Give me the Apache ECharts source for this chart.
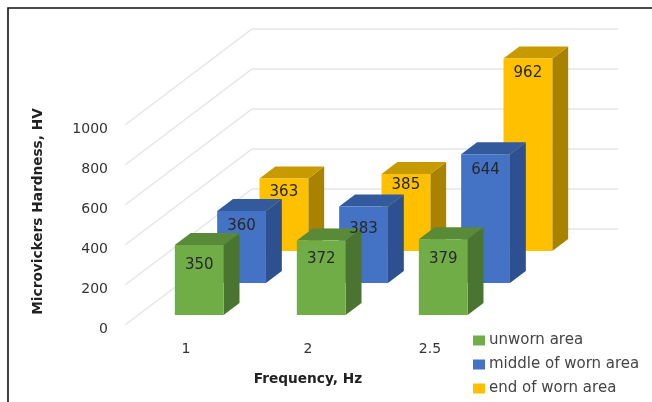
<!DOCTYPE html>
<html>
<head>
<meta charset="utf-8">
<style>html,body{margin:0;padding:0;background:#fff}#chart{width:652px;height:402px}</style>
<script src="https://cdn.jsdelivr.net/npm/echarts@6/dist/echarts.min.js"></script>
</head>
<body>
<div id="chart"></div>
<script>
// Microhardness per loading frequency, measured at three places on the wear track.
const frequencies = ['1', '2', '2.5'];
const unworn = [350, 372, 379];
const middleOfWorn = [360, 383, 644];
const endOfWorn = [363, 385, 962];
const hardnessTicks = [0, 200, 400, 600, 800, 1000];

// Oblique projection of the depth axis, in screen pixels.
const DEPTH_X = 127;
const DEPTH_Y = -96;
const BAR_RATIO = 0.4;
const BAR_DEPTH = 0.125;

const rows = [
  { name: 'unworn area', values: unworn, slot: 0, front: '#70ad47', top: '#588a38', side: '#4a7530', drop: [20, 19, 20] },
  { name: 'middle of worn area', values: middleOfWorn, slot: 1, front: '#4472c4', top: '#345a9e', side: '#2d5190', drop: [15, 23, 16] },
  { name: 'end of worn area', values: endOfWorn, slot: 2, front: '#ffc000', top: '#c79a00', side: '#a98200', drop: [14, 11, 15] }
];

const pairs = values => values.map((v, i) => [i, v]);
const slotDepth = slot => (slot + 0.5) / 3;
const shift = (p, d) => [p[0] + DEPTH_X * d, p[1] + DEPTH_Y * d];

function renderBar(row) {
  return function (params, api) {
    const cat = api.value(0);
    const val = api.value(1);
    const w = api.size([1, 0])[0] * BAR_RATIO;
    const base = api.coord([cat, 0]);
    const head = api.coord([cat, val]);
    const near = slotDepth(row.slot) - BAR_DEPTH / 2;
    const far = slotDepth(row.slot) + BAR_DEPTH / 2;
    const b = shift([base[0] - w / 2, base[1]], near);
    const t = shift([head[0] - w / 2, head[1]], near);
    const dx = DEPTH_X * (far - near);
    const dy = DEPTH_Y * (far - near);
    return {
      type: 'group',
      children: [
        { type: 'polygon', shape: { points: [[t[0] + w, t[1]], [t[0] + w + dx, t[1] + dy], [b[0] + w + dx, b[1] + dy], [b[0] + w, b[1]]] }, style: { fill: row.side } },
        { type: 'polygon', shape: { points: [t, [t[0] + dx, t[1] + dy], [t[0] + w + dx, t[1] + dy], [t[0] + w, t[1]]] }, style: { fill: row.top } },
        { type: 'rect', shape: { x: t[0], y: t[1], width: w, height: b[1] - t[1] }, style: { fill: row.front } }
      ]
    };
  };
}

function renderValue(row) {
  return function (params, api) {
    const cat = api.value(0);
    const val = api.value(1);
    const p = shift(api.coord([cat, val]), slotDepth(row.slot) - BAR_DEPTH / 2);
    return {
      type: 'text',
      style: {
        x: p[0], y: p[1] + row.drop[cat], text: String(val),
        fill: '#26282c', font: '15px "DejaVu Sans"', align: 'center', verticalAlign: 'middle'
      }
    };
  };
}

function renderWall(params, api) {
  const left = api.coord([-0.5, api.value(0)]);
  const grid = params.coordSys;
  const start = [grid.x, left[1]];
  const corner = shift(start, 1);
  return {
    type: 'polyline',
    shape: { points: [start, corner, [grid.x + grid.width + DEPTH_X, corner[1]]] },
    style: { fill: null, stroke: '#e6e6e6', lineWidth: 1.5 }
  };
}

const option = {
  animation: false,
  backgroundColor: '#fff',
  textStyle: { fontFamily: '"DejaVu Sans"' },
  grid: { left: 125, top: 125, width: 366, height: 200 },
  xAxis: {
    type: 'category',
    data: frequencies,
    axisLine: { show: false },
    axisTick: { show: false },
    axisLabel: { margin: 17, fontSize: 14, color: '#333' },
    name: 'Frequency, Hz',
    nameLocation: 'middle',
    nameGap: 47,
    nameTextStyle: { fontSize: 13.7, fontWeight: 'bold', color: '#222' }
  },
  yAxis: {
    type: 'value',
    min: 0,
    max: 1000,
    interval: 200,
    splitLine: { show: false },
    axisLine: { show: false },
    axisTick: { show: false },
    axisLabel: { margin: 17, fontSize: 14, color: '#333', formatter: v => String(v), verticalAlign: 'top', lineHeight: 8 },
    name: 'Microvickers Hardness, HV',
    nameLocation: 'middle',
    nameGap: 80,
    nameTextStyle: { fontSize: 13.7, fontWeight: 'bold', color: '#222', padding: [0, 0, 0, 27] }
  },
  legend: {
    left: 473,
    top: 333,
    orient: 'vertical',
    icon: 'rect',
    itemWidth: 12,
    itemHeight: 10,
    itemGap: 9,
    padding: 0,
    data: rows.map(r => r.name),
    textStyle: { fontSize: 15, color: '#444', padding: [0, 0, 0, -1] }
  },
  graphic: [
    { type: 'polyline', silent: true, shape: { points: [[8, 402], [8, 8], [652, 8]] }, style: { fill: null, stroke: '#111', lineWidth: 1.6 } }
  ],
  series: [
    {
      type: 'custom',
      name: 'hardness gridlines',
      coordinateSystem: 'cartesian2d',
      renderItem: renderWall,
      encode: { y: 0 },
      data: hardnessTicks.map(t => [t]),
      silent: true,
      z: 1
    },
    // Painted far row first so nearer bars cover it.
    ...rows.slice().reverse().map(row => ({
      type: 'custom',
      name: row.name,
      coordinateSystem: 'cartesian2d',
      renderItem: renderBar(row),
      encode: { x: 0, y: 1 },
      itemStyle: { color: row.front },
      data: pairs(row.values),
      z: 2
    })),
    ...rows.map(row => ({
      type: 'custom',
      name: row.name + ' values',
      coordinateSystem: 'cartesian2d',
      renderItem: renderValue(row),
      encode: { x: 0, y: 1 },
      data: pairs(row.values),
      silent: true,
      z: 3
    }))
  ]
};

echarts.init(document.getElementById('chart'), null, { renderer: 'canvas' }).setOption(option);
</script>
</body>
</html>
